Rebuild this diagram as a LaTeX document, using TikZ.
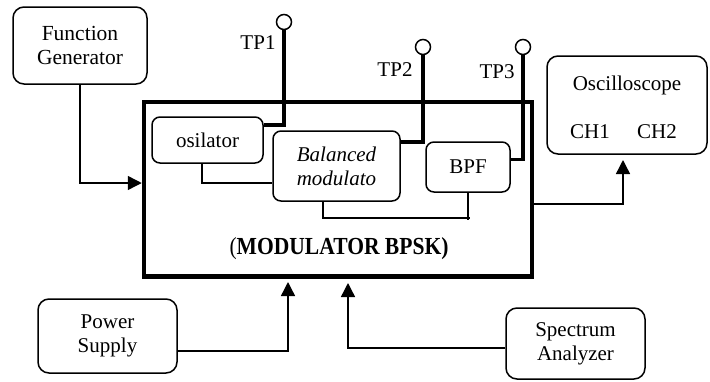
\documentclass[tikz,border=0pt]{standalone}
\usepackage{fontspec}
\setmainfont{Liberation Serif}
\newfontfamily\condfont{Liberation Serif}[FakeStretch=0.88]
\usetikzlibrary{arrows.meta}
\begin{document}
\begin{tikzpicture}[x=1pt,y=-1pt,
  txt/.style={font=\fontsize{21}{24.3}\selectfont},
  box/.style={draw, line width=1.5pt, rounded corners=11pt, align=center, inner sep=0pt, txt},
  ibox/.style={draw, line width=1.5pt, rounded corners=8pt, align=center, inner sep=0pt, txt},
  wire/.style={line width=1.4pt},
  arr/.style={line width=1.4pt, -{Triangle[length=14pt,width=14pt]}},
  probe/.style={line width=3.5pt},
  pin/.style={draw, circle, line width=1.5pt, minimum size=15pt, inner sep=0pt, fill=white}]
\useasboundingbox (0,0) rectangle (710,381);

% main block
\node[draw, line width=4.5pt, minimum width=388pt, minimum height=174.5pt, inner sep=0pt] (main) at (338,189.25) {};
\node[font=\condfont\fontsize{24.5}{28}\selectfont, anchor=base] (title) at (339,254) {(\textbf{MODULATOR BPSK)}};

% inner blocks
\node[ibox, minimum width=111pt, minimum height=46pt] (osil) at (207.5,140) {osilator};
\node[ibox, minimum width=127pt, minimum height=70pt] (bal) at (336.5,166) {\itshape Balanced\\\itshape modulato};
\node[ibox, minimum width=84pt, minimum height=50pt] (bpf) at (468,167) {BPF};

% outer blocks
\node[box, minimum width=134pt, minimum height=77pt, font=\fontsize{21.5}{24.5}\selectfont] (fg) at (80,45.5) {Function\\Generator};
\node[box, minimum width=160pt, minimum height=98pt] (osc) at (627,105) {};
\node[txt, anchor=base] (osct) at (627,90) {Oscilloscope};
\node[txt, anchor=base] (ch1) at (590,138) {CH1};
\node[txt, anchor=base] (ch2) at (657,138) {CH2};
\node[box, minimum width=139pt, minimum height=74pt] (ps) at (107.5,336) {Power\\Supply};
\node[box, minimum width=139pt, minimum height=71pt] (sa) at (575.5,343.5) {Spectrum\\Analyzer};

% coordinates
\coordinate (fgin) at (141.75,183);
\coordinate (oscout) at (531.5,204);
\coordinate (osctip) at (623,160);
\coordinate (pstip) at (288,282);
\coordinate (satip) at (348,283);
\coordinate (bj) at (470,218);
\coordinate (bpfend) at (468,220);

% connectors
\draw[arr] (fg.south) |- (fgin);
\draw[wire] (oscout) -| ([yshift=-4pt]osctip);
\draw[arr] ([yshift=-3pt]osctip) -- (osctip);
\draw[arr] ([yshift=-15pt]ps.east) -| (pstip);
\draw[arr] ([yshift=-4.5pt]sa.west) -| (satip);
\draw[wire] ([xshift=-5.5pt]osil.south) |- ([yshift=-17pt]bal.west);
\draw[wire] ([xshift=-13.5pt]bal.south) |- (bj);
\draw[wire] (bpf.south) -- (bpfend);

% test points
\node[pin] (tp1c) at (284,22) {};
\node[pin] (tp2c) at (423,47) {};
\node[pin] (tp3c) at (523,47) {};
\draw[probe] (tp1c.south) |- ([yshift=15pt]osil.east);
\draw[probe] (tp2c.south) |- ([yshift=24pt]bal.east);
\draw[probe] (tp3c.south) |- ([yshift=7.7pt]bpf.east);
\node[txt, anchor=base] (tp1) at (258,49) {TP1};
\node[txt, anchor=base] (tp2) at (395,76) {TP2};
\node[txt, anchor=base] (tp3) at (497,78) {TP3};
\end{tikzpicture}
\end{document}
